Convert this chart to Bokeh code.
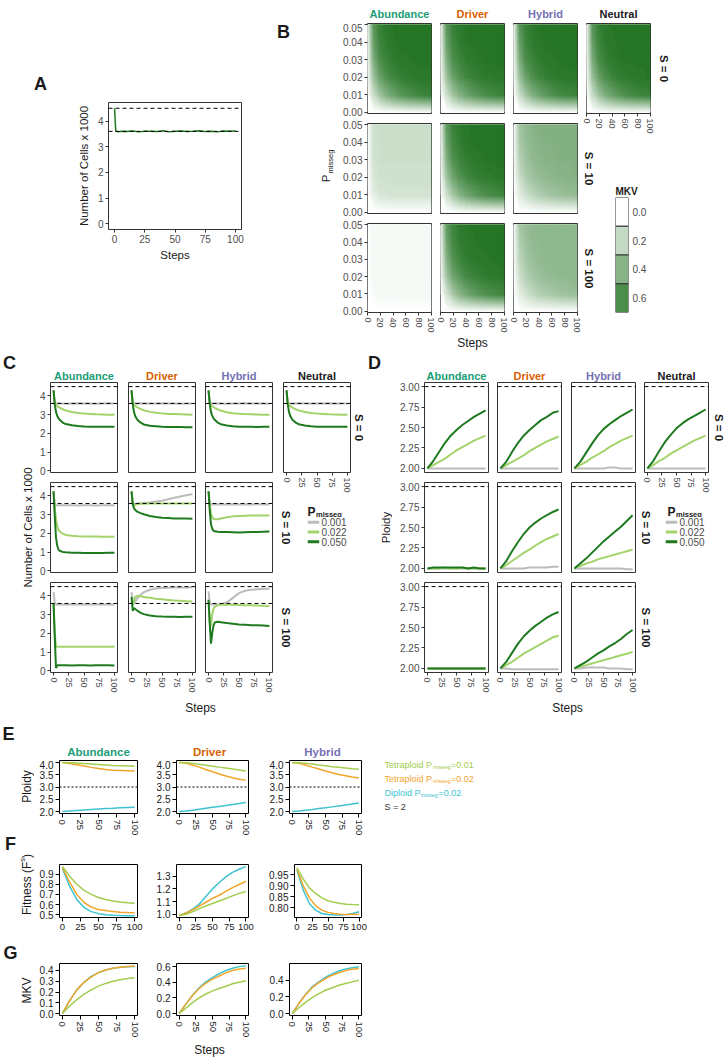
import math
import numpy as np
from bokeh.plotting import figure
from bokeh.plotting.contour import contour_data
from bokeh.models import (Range1d, FactorRange, LinearAxis, CategoricalAxis, FixedTicker, Span, Label,
                          LinearColorMapper, PrintfTickFormatter, ColumnDataSource)
from bokeh.layouts import row, column
from bokeh.embed import file_html
from bokeh.resources import INLINE
from bokeh.transform import transform

# ======================= DATA =======================
# ---- panel A ----
a_steps = [0, 1, 3, 5, 10, 15, 20, 25, 30, 35, 40, 45, 50, 55, 60, 65, 70, 75, 80, 85, 90, 95, 100]
a_cells = [4.50, 3.62, 3.58, 3.60, 3.59, 3.61, 3.58, 3.60, 3.60, 3.59, 3.62, 3.58, 3.60, 3.61, 3.59,
           3.60, 3.62, 3.59, 3.60, 3.58, 3.61, 3.60, 3.61]
a_hlines = [4.5, 3.6]

GROUPS = ["Abundance", "Driver", "Hybrid", "Neutral"]
S_LABELS = ["S = 0", "S = 10", "S = 100"]
pmisseg_labels = ["0.001", "0.022", "0.050"]

# ---- panel B: MKV at grid nodes (rows: Pmisseg 0.00..0.05, cols: steps 0..100) ----
b_step_nodes = [0, 10, 20, 30, 40, 50, 60, 70, 80, 90, 100]
b_pmisseg_nodes = [0.00, 0.01, 0.02, 0.03, 0.04, 0.05]
mkv_s0_abundance = [[0, 0, 0, 0, 0, 0, 0, 0, 0, 0, 0],
                    [0, 0.18, 0.32, 0.42, 0.49, 0.54, 0.58, 0.61, 0.63, 0.65, 0.66],
                    [0, 0.33, 0.50, 0.59, 0.64, 0.67, 0.69, 0.70, 0.71, 0.71, 0.71],
                    [0, 0.43, 0.60, 0.66, 0.69, 0.71, 0.71, 0.72, 0.72, 0.72, 0.72],
                    [0, 0.50, 0.65, 0.69, 0.71, 0.72, 0.72, 0.72, 0.72, 0.72, 0.72],
                    [0, 0.55, 0.67, 0.70, 0.72, 0.72, 0.72, 0.72, 0.72, 0.72, 0.72]]
mkv_s0_driver = [[0, 0, 0, 0, 0, 0, 0, 0, 0, 0, 0],
                 [0, 0.17, 0.31, 0.41, 0.48, 0.53, 0.57, 0.60, 0.62, 0.64, 0.65],
                 [0, 0.32, 0.49, 0.58, 0.63, 0.66, 0.68, 0.70, 0.70, 0.71, 0.71],
                 [0, 0.42, 0.59, 0.65, 0.69, 0.70, 0.71, 0.72, 0.72, 0.72, 0.72],
                 [0, 0.49, 0.64, 0.69, 0.71, 0.72, 0.72, 0.72, 0.72, 0.72, 0.72],
                 [0, 0.54, 0.67, 0.70, 0.72, 0.72, 0.72, 0.72, 0.72, 0.72, 0.72]]
mkv_s0_hybrid = [[0, 0, 0, 0, 0, 0, 0, 0, 0, 0, 0],
                 [0, 0.18, 0.32, 0.42, 0.49, 0.54, 0.58, 0.61, 0.63, 0.64, 0.65],
                 [0, 0.33, 0.50, 0.59, 0.64, 0.67, 0.69, 0.70, 0.71, 0.71, 0.71],
                 [0, 0.43, 0.60, 0.66, 0.69, 0.71, 0.71, 0.72, 0.72, 0.72, 0.72],
                 [0, 0.50, 0.65, 0.69, 0.71, 0.72, 0.72, 0.72, 0.72, 0.72, 0.72],
                 [0, 0.55, 0.67, 0.70, 0.72, 0.72, 0.72, 0.72, 0.72, 0.72, 0.72]]
mkv_s0_neutral = [[0, 0, 0, 0, 0, 0, 0, 0, 0, 0, 0],
                  [0, 0.19, 0.33, 0.43, 0.50, 0.55, 0.59, 0.62, 0.64, 0.65, 0.66],
                  [0, 0.34, 0.51, 0.60, 0.65, 0.68, 0.69, 0.70, 0.71, 0.71, 0.72],
                  [0, 0.44, 0.61, 0.67, 0.70, 0.71, 0.72, 0.72, 0.72, 0.72, 0.72],
                  [0, 0.51, 0.65, 0.70, 0.71, 0.72, 0.72, 0.72, 0.72, 0.72, 0.72],
                  [0, 0.56, 0.68, 0.71, 0.72, 0.72, 0.72, 0.72, 0.72, 0.72, 0.72]]
mkv_s10_abundance = [[0, 0, 0, 0, 0, 0, 0, 0, 0, 0, 0],
                     [0, 0.09, 0.13, 0.14, 0.15, 0.15, 0.15, 0.15, 0.15, 0.15, 0.15],
                     [0, 0.13, 0.16, 0.16, 0.16, 0.16, 0.16, 0.16, 0.16, 0.16, 0.16],
                     [0, 0.15, 0.17, 0.17, 0.17, 0.17, 0.17, 0.17, 0.17, 0.17, 0.17],
                     [0, 0.16, 0.17, 0.17, 0.17, 0.17, 0.17, 0.17, 0.17, 0.17, 0.17],
                     [0, 0.16, 0.17, 0.17, 0.17, 0.17, 0.17, 0.17, 0.17, 0.17, 0.17]]
mkv_s10_driver = [[0, 0, 0, 0, 0, 0, 0, 0, 0, 0, 0],
                  [0, 0.16, 0.30, 0.40, 0.47, 0.52, 0.56, 0.59, 0.61, 0.63, 0.64],
                  [0, 0.31, 0.48, 0.57, 0.63, 0.66, 0.68, 0.69, 0.70, 0.71, 0.71],
                  [0, 0.41, 0.58, 0.65, 0.68, 0.70, 0.71, 0.72, 0.72, 0.72, 0.72],
                  [0, 0.48, 0.63, 0.68, 0.71, 0.72, 0.72, 0.72, 0.72, 0.72, 0.72],
                  [0, 0.53, 0.66, 0.70, 0.71, 0.72, 0.72, 0.72, 0.72, 0.72, 0.72]]
mkv_s10_hybrid = [[0, 0, 0, 0, 0, 0, 0, 0, 0, 0, 0],
                  [0, 0.10, 0.17, 0.22, 0.26, 0.29, 0.31, 0.33, 0.34, 0.35, 0.36],
                  [0, 0.18, 0.27, 0.32, 0.35, 0.37, 0.38, 0.39, 0.40, 0.40, 0.41],
                  [0, 0.24, 0.32, 0.36, 0.38, 0.40, 0.40, 0.41, 0.41, 0.41, 0.42],
                  [0, 0.28, 0.35, 0.38, 0.40, 0.41, 0.41, 0.42, 0.42, 0.42, 0.42],
                  [0, 0.31, 0.37, 0.40, 0.41, 0.42, 0.42, 0.42, 0.42, 0.42, 0.42]]
mkv_s100_abundance = [[0, 0, 0, 0, 0, 0, 0, 0, 0, 0, 0],
                      [0, 0.02, 0.03, 0.03, 0.03, 0.03, 0.03, 0.03, 0.03, 0.03, 0.03],
                      [0, 0.03, 0.03, 0.03, 0.03, 0.03, 0.03, 0.03, 0.03, 0.03, 0.03],
                      [0, 0.03, 0.03, 0.03, 0.03, 0.03, 0.03, 0.03, 0.03, 0.03, 0.03],
                      [0, 0.03, 0.03, 0.03, 0.03, 0.03, 0.03, 0.03, 0.03, 0.03, 0.03],
                      [0, 0.03, 0.03, 0.03, 0.03, 0.03, 0.03, 0.03, 0.03, 0.03, 0.03]]
mkv_s100_driver = [[0, 0, 0, 0, 0, 0, 0, 0, 0, 0, 0],
                   [0, 0.15, 0.29, 0.39, 0.46, 0.51, 0.55, 0.58, 0.60, 0.62, 0.63],
                   [0, 0.30, 0.47, 0.56, 0.62, 0.65, 0.67, 0.69, 0.70, 0.70, 0.71],
                   [0, 0.40, 0.57, 0.64, 0.68, 0.70, 0.71, 0.71, 0.72, 0.72, 0.72],
                   [0, 0.47, 0.62, 0.68, 0.70, 0.71, 0.72, 0.72, 0.72, 0.72, 0.72],
                   [0, 0.52, 0.65, 0.70, 0.71, 0.72, 0.72, 0.72, 0.72, 0.72, 0.72]]
mkv_s100_hybrid = [[0, 0, 0, 0, 0, 0, 0, 0, 0, 0, 0],
                   [0, 0.09, 0.16, 0.21, 0.25, 0.27, 0.29, 0.31, 0.32, 0.33, 0.34],
                   [0, 0.17, 0.25, 0.30, 0.33, 0.35, 0.36, 0.37, 0.37, 0.38, 0.38],
                   [0, 0.22, 0.30, 0.34, 0.36, 0.37, 0.38, 0.38, 0.38, 0.38, 0.38],
                   [0, 0.26, 0.33, 0.36, 0.37, 0.38, 0.38, 0.38, 0.38, 0.38, 0.38],
                   [0, 0.29, 0.35, 0.37, 0.38, 0.38, 0.38, 0.38, 0.38, 0.38, 0.38]]
mkv_levels = [0.0, 0.2, 0.4, 0.6]

# ---- panel C: number of cells x 1000 ----
c_steps = [0, 2, 4, 6, 8, 10, 15, 20, 30, 40, 50, 60, 70, 80, 90, 100]
c_hlines = [4.5, 3.6]
c_s0_ab_p001 = [4.30, 3.62, 3.60, 3.60, 3.61, 3.60, 3.60, 3.59, 3.60, 3.61, 3.60, 3.60, 3.59, 3.60, 3.61, 3.60]
c_s0_ab_p022 = [4.30, 3.62, 3.52, 3.46, 3.41, 3.38, 3.29, 3.22, 3.14, 3.09, 3.06, 3.04, 3.02, 3.01, 3.00, 3.00]
c_s0_ab_p050 = [4.30, 3.55, 3.15, 2.94, 2.82, 2.73, 2.58, 2.50, 2.43, 2.39, 2.37, 2.36, 2.35, 2.35, 2.36, 2.36]
c_s0_dr_p001 = [4.30, 3.61, 3.60, 3.61, 3.60, 3.60, 3.61, 3.60, 3.60, 3.60, 3.61, 3.60, 3.60, 3.59, 3.60, 3.60]
c_s0_dr_p022 = [4.30, 3.62, 3.53, 3.47, 3.42, 3.39, 3.30, 3.24, 3.15, 3.10, 3.07, 3.04, 3.03, 3.02, 3.01, 3.00]
c_s0_dr_p050 = [4.30, 3.55, 3.14, 2.93, 2.81, 2.72, 2.57, 2.48, 2.41, 2.38, 2.35, 2.34, 2.34, 2.34, 2.33, 2.33]
c_s0_hy_p001 = [4.30, 3.60, 3.61, 3.60, 3.60, 3.61, 3.60, 3.60, 3.59, 3.60, 3.60, 3.61, 3.60, 3.60, 3.60, 3.59]
c_s0_hy_p022 = [4.30, 3.61, 3.52, 3.46, 3.41, 3.37, 3.28, 3.22, 3.13, 3.08, 3.05, 3.03, 3.02, 3.01, 3.00, 3.00]
c_s0_hy_p050 = [4.30, 3.56, 3.15, 2.95, 2.82, 2.73, 2.58, 2.49, 2.42, 2.38, 2.36, 2.35, 2.35, 2.34, 2.35, 2.35]
c_s0_ne_p001 = [4.30, 3.61, 3.60, 3.60, 3.60, 3.59, 3.60, 3.61, 3.60, 3.60, 3.60, 3.60, 3.61, 3.60, 3.60, 3.60]
c_s0_ne_p022 = [4.30, 3.62, 3.53, 3.46, 3.41, 3.38, 3.29, 3.23, 3.14, 3.09, 3.06, 3.04, 3.02, 3.01, 3.00, 3.00]
c_s0_ne_p050 = [4.30, 3.55, 3.15, 2.94, 2.82, 2.72, 2.58, 2.49, 2.42, 2.38, 2.36, 2.36, 2.35, 2.35, 2.35, 2.36]
c_s10_ab_p001 = [4.25, 3.55, 3.50, 3.50, 3.50, 3.50, 3.50, 3.50, 3.51, 3.49, 3.50, 3.50, 3.49, 3.50, 3.50, 3.50]
c_s10_ab_p022 = [4.25, 3.40, 2.75, 2.40, 2.20, 2.10, 1.98, 1.92, 1.88, 1.85, 1.84, 1.83, 1.83, 1.82, 1.82, 1.82]
c_s10_ab_p050 = [4.25, 2.90, 1.80, 1.35, 1.15, 1.07, 1.01, 0.99, 0.97, 0.96, 0.95, 0.95, 0.95, 0.95, 0.96, 0.97]
c_s10_dr_p001 = [4.25, 3.60, 3.58, 3.58, 3.59, 3.60, 3.61, 3.62, 3.65, 3.70, 3.75, 3.82, 3.90, 3.97, 4.04, 4.10]
c_s10_dr_p022 = [4.25, 3.60, 3.50, 3.52, 3.55, 3.57, 3.58, 3.59, 3.60, 3.60, 3.60, 3.60, 3.60, 3.60, 3.60, 3.60]
c_s10_dr_p050 = [4.25, 3.55, 3.35, 3.25, 3.20, 3.15, 3.08, 3.02, 2.93, 2.88, 2.84, 2.82, 2.80, 2.80, 2.79, 2.78]
c_s10_hy_p001 = [4.25, 3.60, 3.56, 3.55, 3.55, 3.55, 3.55, 3.56, 3.55, 3.56, 3.55, 3.55, 3.55, 3.56, 3.55, 3.55]
c_s10_hy_p022 = [4.25, 3.50, 3.05, 2.85, 2.78, 2.75, 2.76, 2.80, 2.86, 2.91, 2.93, 2.94, 2.95, 2.95, 2.95, 2.95]
c_s10_hy_p050 = [4.25, 3.20, 2.50, 2.25, 2.15, 2.11, 2.09, 2.08, 2.07, 2.06, 2.05, 2.06, 2.07, 2.08, 2.09, 2.10]
c_s100_ab_p001 = [4.20, 3.60, 3.55, 3.55, 3.55, 3.55, 3.55, 3.55, 3.55, 3.55, 3.55, 3.55, 3.55, 3.55, 3.55, 3.55]
c_s100_ab_p022 = [3.60, 2.00, 1.30, 1.28, 1.28, 1.28, 1.28, 1.28, 1.28, 1.28, 1.28, 1.28, 1.28, 1.28, 1.28, 1.28]
c_s100_ab_p050 = [3.60, 1.80, 0.15, 0.28, 0.30, 0.30, 0.30, 0.30, 0.29, 0.30, 0.30, 0.29, 0.30, 0.30, 0.30, 0.29]
c_s100_dr_p001 = [4.20, 3.65, 3.62, 3.70, 3.80, 3.90, 4.08, 4.20, 4.33, 4.40, 4.42, 4.44, 4.45, 4.45, 4.45, 4.46]
c_s100_dr_p022 = [3.65, 3.50, 3.75, 3.95, 4.00, 4.00, 3.98, 3.95, 3.90, 3.85, 3.82, 3.79, 3.76, 3.74, 3.72, 3.70]
c_s100_dr_p050 = [3.95, 3.20, 3.35, 3.30, 3.25, 3.20, 3.10, 3.03, 2.96, 2.92, 2.90, 2.89, 2.89, 2.88, 2.89, 2.89]
c_s100_hy_p001 = [4.25, 3.60, 3.55, 3.55, 3.55, 3.55, 3.55, 3.56, 3.65, 3.90, 4.15, 4.28, 4.33, 4.36, 4.37, 4.38]
c_s100_hy_p022 = [3.80, 2.60, 2.40, 3.00, 3.30, 3.42, 3.50, 3.53, 3.55, 3.53, 3.52, 3.51, 3.50, 3.49, 3.48, 3.47]
c_s100_hy_p050 = [3.80, 2.50, 1.45, 2.00, 2.40, 2.58, 2.62, 2.60, 2.55, 2.52, 2.48, 2.46, 2.44, 2.43, 2.42, 2.40]

# ---- panel D: ploidy ----
d_steps = [0, 10, 20, 30, 40, 50, 60, 70, 80, 90, 100]
d_hline = [3.0]
d_s0_ab_p001 = [2.00, 2.00, 2.00, 2.00, 2.00, 2.00, 2.00, 2.00, 2.00, 2.00, 2.00]
d_s0_ab_p022 = [2.00, 2.04, 2.08, 2.12, 2.17, 2.22, 2.26, 2.30, 2.34, 2.37, 2.40]
d_s0_ab_p050 = [2.00, 2.09, 2.20, 2.31, 2.40, 2.47, 2.53, 2.58, 2.63, 2.67, 2.71]
d_s0_dr_p001 = [2.00, 2.00, 2.00, 2.00, 2.00, 2.00, 2.00, 2.00, 2.00, 2.00, 2.00]
d_s0_dr_p022 = [2.00, 2.04, 2.08, 2.12, 2.16, 2.21, 2.25, 2.29, 2.33, 2.36, 2.39]
d_s0_dr_p050 = [2.00, 2.08, 2.20, 2.31, 2.40, 2.47, 2.53, 2.59, 2.63, 2.68, 2.70]
d_s0_hy_p001 = [2.00, 2.00, 2.00, 2.00, 2.00, 2.00, 2.01, 2.01, 2.00, 2.00, 2.00]
d_s0_hy_p022 = [2.00, 2.04, 2.08, 2.13, 2.17, 2.21, 2.26, 2.30, 2.34, 2.37, 2.40]
d_s0_hy_p050 = [2.00, 2.08, 2.19, 2.30, 2.40, 2.48, 2.54, 2.59, 2.64, 2.68, 2.72]
d_s0_ne_p001 = [2.00, 2.00, 2.00, 2.00, 2.00, 2.00, 2.00, 2.00, 2.00, 2.00, 2.00]
d_s0_ne_p022 = [2.00, 2.04, 2.09, 2.13, 2.18, 2.22, 2.26, 2.30, 2.34, 2.37, 2.40]
d_s0_ne_p050 = [2.00, 2.09, 2.21, 2.32, 2.41, 2.49, 2.55, 2.60, 2.64, 2.68, 2.72]
d_s10_ab_p001 = [2.00, 2.00, 2.00, 2.00, 2.00, 2.00, 2.00, 2.00, 2.00, 2.00, 2.00]
d_s10_ab_p022 = [2.00, 2.00, 2.00, 2.01, 2.00, 2.00, 2.01, 2.00, 2.00, 2.00, 2.00]
d_s10_ab_p050 = [2.00, 2.01, 2.01, 2.01, 2.01, 2.01, 2.01, 2.00, 2.01, 2.00, 2.00]
d_s10_dr_p001 = [2.00, 2.00, 2.00, 2.00, 2.00, 2.01, 2.01, 2.01, 2.01, 2.02, 2.02]
d_s10_dr_p022 = [2.00, 2.04, 2.09, 2.14, 2.19, 2.23, 2.28, 2.32, 2.36, 2.39, 2.42]
d_s10_dr_p050 = [2.00, 2.09, 2.21, 2.32, 2.42, 2.50, 2.56, 2.61, 2.65, 2.69, 2.72]
d_s10_hy_p001 = [2.00, 2.00, 2.00, 2.00, 2.00, 2.00, 2.00, 2.00, 2.00, 1.99, 1.99]
d_s10_hy_p022 = [2.00, 2.03, 2.06, 2.08, 2.11, 2.13, 2.15, 2.17, 2.19, 2.21, 2.23]
d_s10_hy_p050 = [2.00, 2.06, 2.12, 2.19, 2.26, 2.33, 2.39, 2.45, 2.51, 2.58, 2.65]
d_s100_ab_p001 = [2.00, 2.00, 2.00, 2.00, 2.00, 2.00, 2.00, 2.00, 2.00, 2.00, 2.00]
d_s100_ab_p022 = [2.00, 2.00, 2.00, 2.00, 2.00, 2.00, 2.00, 2.00, 2.00, 2.00, 2.00]
d_s100_ab_p050 = [2.00, 2.00, 2.00, 2.00, 2.00, 2.00, 2.00, 2.00, 2.00, 2.00, 2.00]
d_s100_dr_p001 = [2.00, 2.00, 1.99, 1.99, 1.99, 1.99, 1.99, 1.99, 1.99, 1.99, 1.99]
d_s100_dr_p022 = [2.00, 2.04, 2.08, 2.13, 2.18, 2.22, 2.26, 2.30, 2.34, 2.38, 2.40]
d_s100_dr_p050 = [2.00, 2.08, 2.19, 2.30, 2.39, 2.46, 2.52, 2.57, 2.62, 2.66, 2.69]
d_s100_hy_p001 = [2.00, 2.00, 2.01, 2.01, 2.01, 2.01, 2.00, 2.00, 2.00, 1.99, 1.99]
d_s100_hy_p022 = [2.00, 2.02, 2.04, 2.06, 2.08, 2.10, 2.12, 2.14, 2.16, 2.18, 2.20]
d_s100_hy_p050 = [2.00, 2.04, 2.08, 2.13, 2.18, 2.22, 2.27, 2.31, 2.36, 2.42, 2.47]

# ---- panels E, F, G ----
efg_steps = [0, 10, 20, 30, 40, 50, 60, 70, 80, 90, 100]
efg_series_names = ["Tetraploid P", "Tetraploid P", "Diploid P"]
efg_pmisseg = ["=0.01", "=0.02", "=0.02"]
efg_s_label = "S = 2"
e_hline = [3.0]
e_ab_tet01 = [4.00, 3.99, 3.98, 3.96, 3.94, 3.92, 3.90, 3.88, 3.87, 3.86, 3.85]
e_ab_tet02 = [4.00, 3.96, 3.91, 3.86, 3.80, 3.75, 3.71, 3.68, 3.67, 3.66, 3.65]
e_ab_dip02 = [2.00, 2.02, 2.04, 2.06, 2.08, 2.10, 2.12, 2.13, 2.15, 2.16, 2.17]
e_dr_tet01 = [4.00, 3.99, 3.97, 3.93, 3.89, 3.85, 3.81, 3.77, 3.73, 3.69, 3.65]
e_dr_tet02 = [4.00, 3.97, 3.90, 3.81, 3.71, 3.62, 3.53, 3.45, 3.38, 3.32, 3.28]
e_dr_dip02 = [2.00, 2.02, 2.05, 2.09, 2.13, 2.17, 2.21, 2.25, 2.29, 2.33, 2.37]
e_hy_tet01 = [4.00, 3.99, 3.97, 3.94, 3.90, 3.87, 3.83, 3.80, 3.77, 3.74, 3.72]
e_hy_tet02 = [4.00, 3.97, 3.90, 3.81, 3.73, 3.65, 3.58, 3.51, 3.46, 3.41, 3.37]
e_hy_dip02 = [2.00, 2.02, 2.05, 2.08, 2.12, 2.15, 2.19, 2.23, 2.27, 2.31, 2.35]
f_ab_tet01 = [0.975, 0.88, 0.80, 0.74, 0.70, 0.67, 0.65, 0.635, 0.625, 0.617, 0.612]
f_ab_tet02 = [0.965, 0.82, 0.70, 0.62, 0.575, 0.55, 0.54, 0.53, 0.525, 0.522, 0.52]
f_ab_dip02 = [0.955, 0.78, 0.65, 0.57, 0.53, 0.51, 0.50, 0.495, 0.492, 0.49, 0.49]
f_dr_tet01 = [0.99, 1.00, 1.02, 1.045, 1.065, 1.085, 1.105, 1.125, 1.145, 1.165, 1.18]
f_dr_tet02 = [0.99, 1.01, 1.035, 1.065, 1.095, 1.125, 1.15, 1.18, 1.21, 1.235, 1.26]
f_dr_dip02 = [0.99, 1.01, 1.04, 1.08, 1.14, 1.20, 1.25, 1.295, 1.33, 1.355, 1.375]
f_hy_tet01 = [0.98, 0.93, 0.89, 0.865, 0.845, 0.832, 0.825, 0.82, 0.817, 0.815, 0.814]
f_hy_tet02 = [0.975, 0.90, 0.845, 0.81, 0.79, 0.78, 0.775, 0.772, 0.771, 0.771, 0.772]
f_hy_dip02 = [0.97, 0.88, 0.82, 0.79, 0.775, 0.77, 0.768, 0.768, 0.770, 0.775, 0.783]
g_ab_tet01 = [0.0, 0.07, 0.13, 0.18, 0.22, 0.255, 0.28, 0.30, 0.315, 0.325, 0.333]
g_ab_tet02 = [0.0, 0.12, 0.22, 0.29, 0.34, 0.38, 0.405, 0.42, 0.43, 0.437, 0.442]
g_ab_dip02 = [0.0, 0.12, 0.22, 0.29, 0.345, 0.38, 0.405, 0.42, 0.43, 0.435, 0.438]
g_dr_tet01 = [0.0, 0.07, 0.14, 0.20, 0.25, 0.29, 0.32, 0.35, 0.38, 0.40, 0.42]
g_dr_tet02 = [0.0, 0.12, 0.23, 0.32, 0.39, 0.44, 0.48, 0.52, 0.55, 0.57, 0.58]
g_dr_dip02 = [0.0, 0.12, 0.235, 0.33, 0.405, 0.46, 0.51, 0.55, 0.58, 0.60, 0.61]
g_hy_tet01 = [0.0, 0.07, 0.135, 0.19, 0.24, 0.28, 0.31, 0.34, 0.36, 0.38, 0.40]
g_hy_tet02 = [0.0, 0.12, 0.225, 0.31, 0.37, 0.42, 0.46, 0.49, 0.515, 0.53, 0.54]
g_hy_dip02 = [0.0, 0.12, 0.23, 0.32, 0.38, 0.435, 0.475, 0.51, 0.535, 0.55, 0.56]

# ======================= STYLE =======================
FONT = "Liberation Sans"
TICK_COL = "#4d4d4d"
FRAME_COL = "#333333"
TXT_COL = "#1a1a1a"
GROUP_COLORS = ["#1b9e77", "#d95f02", "#7570b3", "#1a1a1a"]
PM_COLORS = ["#bcbcbc", "#a3d36b", "#1f7a1f"]
EFG_COLORS = ["#a2cd4e", "#f2a52b", "#3ec3cf"]
MKV_HIGH = (30, 112, 30)
MKV_MAX = 0.75


def mkv_color(v):
    t = min(max(v / MKV_MAX, 0.0), 1.0)
    return "#%02x%02x%02x" % tuple(int(round(255 + (h - 255) * t)) for h in MKV_HIGH)


MKV_PALETTE = [mkv_color(v) for v in np.linspace(0, MKV_MAX, 256)]
MKV_MAPPER = LinearColorMapper(palette=MKV_PALETTE, low=0, high=MKV_MAX)
MKV_BANDS = list(np.linspace(-0.005, 0.755, 58))

# tables built from the named arrays
B_MATS = [[mkv_s0_abundance, mkv_s0_driver, mkv_s0_hybrid, mkv_s0_neutral],
          [mkv_s10_abundance, mkv_s10_driver, mkv_s10_hybrid],
          [mkv_s100_abundance, mkv_s100_driver, mkv_s100_hybrid]]
C_SERIES = [[[c_s0_ab_p001, c_s0_ab_p022, c_s0_ab_p050], [c_s0_dr_p001, c_s0_dr_p022, c_s0_dr_p050],
             [c_s0_hy_p001, c_s0_hy_p022, c_s0_hy_p050], [c_s0_ne_p001, c_s0_ne_p022, c_s0_ne_p050]],
            [[c_s10_ab_p001, c_s10_ab_p022, c_s10_ab_p050], [c_s10_dr_p001, c_s10_dr_p022, c_s10_dr_p050],
             [c_s10_hy_p001, c_s10_hy_p022, c_s10_hy_p050]],
            [[c_s100_ab_p001, c_s100_ab_p022, c_s100_ab_p050], [c_s100_dr_p001, c_s100_dr_p022, c_s100_dr_p050],
             [c_s100_hy_p001, c_s100_hy_p022, c_s100_hy_p050]]]
D_SERIES = [[[d_s0_ab_p001, d_s0_ab_p022, d_s0_ab_p050], [d_s0_dr_p001, d_s0_dr_p022, d_s0_dr_p050],
             [d_s0_hy_p001, d_s0_hy_p022, d_s0_hy_p050], [d_s0_ne_p001, d_s0_ne_p022, d_s0_ne_p050]],
            [[d_s10_ab_p001, d_s10_ab_p022, d_s10_ab_p050], [d_s10_dr_p001, d_s10_dr_p022, d_s10_dr_p050],
             [d_s10_hy_p001, d_s10_hy_p022, d_s10_hy_p050]],
            [[d_s100_ab_p001, d_s100_ab_p022, d_s100_ab_p050], [d_s100_dr_p001, d_s100_dr_p022, d_s100_dr_p050],
             [d_s100_hy_p001, d_s100_hy_p022, d_s100_hy_p050]]]
E_SERIES = [[e_ab_tet01, e_ab_tet02, e_ab_dip02], [e_dr_tet01, e_dr_tet02, e_dr_dip02], [e_hy_tet01, e_hy_tet02, e_hy_dip02]]
F_SERIES = [[f_ab_tet01, f_ab_tet02, f_ab_dip02], [f_dr_tet01, f_dr_tet02, f_dr_dip02], [f_hy_tet01, f_hy_tet02, f_hy_dip02]]
G_SERIES = [[g_ab_tet01, g_ab_tet02, g_ab_dip02], [g_dr_tet01, g_dr_tet02, g_dr_dip02], [g_hy_tet01, g_hy_tet02, g_hy_dip02]]

# ======================= HELPERS =======================
FB = {}
AW = {'T': .611, 'e': .556, 't': .278, 'r': .333, 'a': .556, 'p': .556, 'l': .222, 'o': .556, 'i': .222,
      'd': .556, ' ': .278, 'P': .667, 'D': .722, 'm': .833, 's': .5, 'g': .556, '=': .584, '0': .556,
      '.': .278, '1': .556, '2': .556, 'S': .667, 'F': .611, 'n': .556, '(': .333, ')': .333}


def tw(s, size):
    return sum(AW.get(ch, .556) for ch in s) * size


def canvas(cx0, cy0, cx1, cy1, frame=None, xr=None, yr=None, yfactors=None, outline=True):
    """figure occupying page box (cx0,cy0)-(cx1,cy1) with its frame at page box `frame`."""
    if frame is None:
        frame = (cx0, cy0, cx1, cy1)
        xr = (0, cx1 - cx0)
        yr = (cy1 - cy0, 0)
        outline = False
    fx0, fy0, fx1, fy1 = frame
    if yfactors is not None:
        y_range = FactorRange(factors=list(yfactors))
        ynum = (0, len(yfactors))
    else:
        y_range = Range1d(*yr)
        ynum = yr
    p = figure(width=cx1 - cx0, height=cy1 - cy0, x_range=Range1d(*xr), y_range=y_range,
               min_border_left=fx0 - cx0, min_border_right=cx1 - fx1,
               min_border_top=fy0 - cy0, min_border_bottom=cy1 - fy1,
               toolbar_location=None, tools="", output_backend="svg",
               x_axis_location=None, y_axis_location=None)
    try:
        p.frame_align = False
    except Exception:
        pass
    p.outline_line_color = FRAME_COL if outline else None
    p.outline_line_width = 1
    p.background_fill_color = "white"
    p.border_fill_color = "white"
    p.xgrid.visible = False
    p.ygrid.visible = False
    FB[p.id] = (fx0, fy0, fx1, fy1, xr[0], xr[1], ynum[0], ynum[1])
    return p


def txt(p, px, py, text, size=11, color=TXT_COL, bold=False, align="center", baseline="middle",
        angle=0.0, font=FONT):
    fx0, fy0, fx1, fy1, xs, xe, ys, ye = FB[p.id]
    dx = xs + (px - fx0) / (fx1 - fx0) * (xe - xs)
    dy = ye + (py - fy0) / (fy1 - fy0) * (ys - ye)
    p.add_layout(Label(x=dx, y=dy, text=text, text_font=font, text_font_size=f"{size}px",
                       text_color=color, text_font_style="bold" if bold else "normal",
                       text_align=align, text_baseline=baseline, angle=angle))


def add_axis(p, side, ticks=None, fmt=None, vertical=False, size=10, color=TICK_COL,
             tick_color=FRAME_COL, tick_len=3, standoff=2, cat=False, no_ticks=False):
    if cat:
        ax = CategoricalAxis()
    else:
        ax = LinearAxis(ticker=FixedTicker(ticks=list(ticks)))
        if fmt:
            ax.formatter = PrintfTickFormatter(format=fmt)
    ax.axis_line_color = None
    ax.major_tick_line_color = None if no_ticks else tick_color
    ax.major_tick_out = 0 if no_ticks else tick_len
    ax.major_tick_in = 0
    ax.minor_tick_line_color = None
    ax.major_label_text_font_size = f"{size}px"
    ax.major_label_text_color = color
    ax.major_label_text_font = FONT
    ax.major_label_standoff = standoff
    ax.axis_label_text_font = FONT
    ax.axis_label_text_font_style = "normal"
    ax.axis_label_text_color = TXT_COL
    ax.axis_label_text_font_size = "11.5px"
    if vertical:
        ax.major_label_orientation = "vertical"
    p.add_layout(ax, side)
    return ax


def build_grid(xf, xc, yf, yc, ne_bottom, xr, yr, draw, xt, yt, yfmt, xsize=9):
    cols = []
    for c in range(4):
        nrows = 1 if c == 3 else 3
        figs = []
        for r in range(nrows):
            cy0, cy1 = yc[r]
            if c == 3:
                cy1 = ne_bottom
            p = canvas(xc[c][0], cy0, xc[c][1], cy1, (xf[c][0], yf[r][0], xf[c][1], yf[r][1]), xr, yr)
            draw(p, r, c)
            if c == 0:
                add_axis(p, "left", yt, fmt=yfmt)
            if r == nrows - 1:
                add_axis(p, "below", xt, vertical=True, size=xsize)
            figs.append(p)
        cols.append(figs)
    return cols


def strip_top(cx0, cy0, cx1, cy1, xf, sy, groups, size=11):
    p = canvas(cx0, cy0, cx1, cy1)
    for c, g in enumerate(groups):
        txt(p, (xf[c][0] + xf[c][1]) / 2, sy, g, size=size, bold=True, color=GROUP_COLORS[c])
    return p


def strip_side(cx0, cy0, cx1, cy1, sx, rows_y, labels):
    p = canvas(cx0, cy0, cx1, cy1)
    for lab, yy in zip(labels, rows_y):
        txt(p, sx, yy, lab, size=11.5, bold=True, angle=-math.pi / 2)
    return p


def pm_title(cx0, cy0, cx1, cy1, x0, y0):
    p = canvas(cx0, cy0, cx1, cy1)
    txt(p, x0, y0, "P", size=12, bold=True, align="left")
    txt(p, x0 + tw("P", 12) + 0.5, y0 + 2.5, "misseg", size=7.5, bold=True, align="left")
    return p


def pm_legend(cx0, cy0, cx1, cy1, frame):
    p = canvas(cx0, cy0, cx1, cy1, frame, (0, 1), None, yfactors=list(reversed(pmisseg_labels)),
               outline=False)
    p.segment(x0=0, x1=1, y0=pmisseg_labels, y1=pmisseg_labels, line_color=PM_COLORS, line_width=3)
    add_axis(p, "right", cat=True, no_ticks=True, size=10, standoff=2)
    return p


# ======================= PANEL A =======================
a_top = canvas(0, 0, 260, 95)
txt(a_top, 40, 83, "A", size=18, bold=True)
pA = canvas(0, 95, 260, 350, (108, 102, 241, 229), (-5, 105), (-0.225, 4.725))
pA.line(a_steps, a_cells, color="#1f7a1f", line_width=1.5)
for h in a_hlines:
    pA.add_layout(Span(location=h, dimension="width", line_color="black", line_dash="4 3", line_width=1))
axA_x = add_axis(pA, "below", [0, 25, 50, 75, 100])
axA_x.axis_label = "Steps"
axA_x.axis_label_standoff = 3
axA_y = add_axis(pA, "left", [0, 1, 2, 3, 4])
axA_y.axis_label = "Number of Cells x 1000"
axA_y.axis_label_standoff = 5
a_block = column(a_top, pA)

# ======================= PANEL B =======================
B_XF = [(367, 431), (440, 504), (513, 577), (586, 650)]
B_XC = [(335, 435), (435, 508), (508, 581), (581, 655)]
B_YF = [(23, 113), (123, 213), (223, 313)]
B_YC = [(23, 118), (118, 218), (218, 335)]


def draw_b(p, r, c):
    cd = contour_data(np.array(b_step_nodes, dtype=float), np.array(b_pmisseg_nodes, dtype=float),
                      np.array(B_MATS[r][c], dtype=float), MKV_BANDS, want_fill=True, want_line=False)
    fd = cd.fill_data
    cols = [mkv_color((lo + hi) / 2) for lo, hi in zip(fd.lower_levels, fd.upper_levels)]
    p.multi_polygons(xs=fd.xs, ys=fd.ys, fill_color=cols, line_color=cols, line_width=0.8)


b_cols = build_grid(B_XF, B_XC, B_YF, B_YC, 143, (-0.5, 100.5), (-0.0007, 0.0507), draw_b,
                    [0, 20, 40, 60, 80, 100], [0, 0.01, 0.02, 0.03, 0.04, 0.05], "%.2f")
b_left = canvas(260, 0, 335, 350)
txt(b_left, 283, 31, "B", size=18, bold=True)
txt(b_left, 325, 178, "P", size=11.5, angle=math.pi / 2)
txt(b_left, 330, 161, "misseg", size=7.5, angle=math.pi / 2)
b_top = strip_top(335, 0, 725, 23, B_XF, 13, GROUPS)
b_s0 = strip_side(655, 23, 725, 143, 663, [68], S_LABELS[:1])
b_strip = strip_side(581, 143, 605, 335, 588, [168, 268], S_LABELS[1:])
b_mkv_title = canvas(605, 143, 725, 197)
txt(b_mkv_title, 615, 191, "MKV", size=10, bold=True, align="left")
b_leg = canvas(605, 197, 725, 335, (615, 197, 628, 312), (0, 1), (0.7, -0.1))
b_leg.outline_line_color = None
b_src = ColumnDataSource(dict(y=mkv_levels, v=mkv_levels))
b_leg.rect(x=0.5, y="y", width=1, height=0.2, source=b_src, fill_color=transform("v", MKV_MAPPER),
           line_color=FRAME_COL, line_width=1)
add_axis(b_leg, "right", mkv_levels, fmt="%.1f", no_ticks=True, size=10, standoff=4)
b_steps_fig = canvas(335, 335, 725, 350)
txt(b_steps_fig, 472, 342, "Steps", size=12)
b_colNe = column(row(b_cols[3][0], b_s0), row(b_strip, column(b_mkv_title, b_leg)))
b_grid = row(column(*b_cols[0]), column(*b_cols[1]), column(*b_cols[2]), b_colNe)
b_block = row(b_left, column(b_top, b_grid, b_steps_fig))
top = row(a_block, b_block)

# ======================= PANELS C & D =======================
G_YF = [(382, 472), (482, 572), (582, 672)]
G_YC = [(382, 477), (477, 577), (577, 700)]


def draw_c(p, r, c):
    for i, ser in enumerate(C_SERIES[r][c]):
        p.line(c_steps, ser, color=PM_COLORS[i], line_width=2)
    for h in c_hlines:
        p.add_layout(Span(location=h, dimension="width", line_color="black", line_dash="4 3", line_width=1))


def draw_d(p, r, c):
    for i, ser in enumerate(D_SERIES[r][c]):
        p.line(d_steps, ser, color=PM_COLORS[i], line_width=2)
    for h in d_hline:
        p.add_layout(Span(location=h, dimension="width", line_color="black", line_dash="4 3", line_width=1))


C_XF = [(50, 117), (128, 195), (205, 272), (283, 350)]
C_XC = [(34, 122), (122, 200), (200, 277), (277, 352)]
c_cols = build_grid(C_XF, C_XC, G_YF, G_YC, 500, (-5, 105), (-0.09, 4.72), draw_c,
                    [0, 25, 50, 75, 100], [0, 1, 2, 3, 4], None)
c_top = strip_top(0, 350, 365, 382, C_XF, 375, GROUPS)
txt(c_top, 9, 362, "C", size=18, bold=True)
c_ylab = canvas(0, 382, 34, 700)
txt(c_ylab, 27, 527, "Number of Cells x 1000", size=11.5, angle=math.pi / 2)
c_s0 = strip_side(352, 382, 365, 500, 358.5, [427], S_LABELS[:1])
c_strip = strip_side(277, 500, 296, 700, 285, [527, 627], S_LABELS[1:])
c_pmt = pm_title(296, 500, 365, 517, 307, 511)
c_leg = pm_legend(296, 517, 365, 550, (307, 517, 319, 546))
c_colNe = column(row(c_cols[3][0], c_s0), row(c_strip, column(c_pmt, c_leg)))
c_steps_fig = canvas(0, 700, 365, 716)
txt(c_steps_fig, 200, 707, "Steps", size=12)
c_block = column(c_top, row(c_ylab, column(*c_cols[0]), column(*c_cols[1]), column(*c_cols[2]), c_colNe),
                 c_steps_fig)

D_XF = [(424, 488), (497, 561), (571, 635), (644, 708)]
D_XC = [(392, 492), (492, 566), (566, 639), (639, 712)]
d_cols = build_grid(D_XF, D_XC, G_YF, G_YC, 500, (-5, 105), (1.95, 3.05), draw_d,
                    [0, 25, 50, 75, 100], [2.0, 2.25, 2.5, 2.75, 3.0], "%.2f")
d_top = strip_top(365, 350, 725, 382, D_XF, 375, GROUPS)
txt(d_top, 374, 362, "D", size=18, bold=True)
d_ylab = canvas(365, 382, 392, 700)
txt(d_ylab, 385, 527, "Ploidy", size=11.5, angle=math.pi / 2)
d_s0 = strip_side(712, 382, 725, 500, 718.5, [427], S_LABELS[:1])
d_strip = strip_side(639, 500, 656, 700, 645, [527, 627], S_LABELS[1:])
d_pmt = pm_title(656, 500, 725, 517, 667, 511)
d_leg = pm_legend(656, 517, 725, 550, (665, 517, 677, 546))
d_colNe = column(row(d_cols[3][0], d_s0), row(d_strip, column(d_pmt, d_leg)))
d_steps_fig = canvas(365, 700, 725, 716)
txt(d_steps_fig, 567, 707, "Steps", size=12)
d_block = column(d_top, row(d_ylab, column(*d_cols[0]), column(*d_cols[1]), column(*d_cols[2]), d_colNe),
                 d_steps_fig)
mid = row(c_block, d_block)

# ======================= PANELS E, F, G =======================
EFG_XF = [(59, 137), (170, 248), (283, 361)]
EFG_XC = [(34, 153), (153, 266), (266, 372)]


def efg_panel(c, cy0, cy1, fy0, fy1, yr, yt, yfmt, series, xvertical, hline=None):
    p = canvas(EFG_XC[c][0], cy0, EFG_XC[c][1], cy1, (EFG_XF[c][0], fy0, EFG_XF[c][1], fy1), (-4, 104), yr)
    p.outline_line_color = "black"
    for i in [2, 1, 0]:
        p.line(efg_steps, series[i], color=EFG_COLORS[i], line_width=1.5)
    if hline:
        for h in hline:
            p.add_layout(Span(location=h, dimension="width", line_color="black", line_dash="2 2", line_width=1))
    add_axis(p, "left", yt, fmt=yfmt, size=10, color=TXT_COL, tick_color="black", tick_len=4)
    add_axis(p, "below", [0, 25, 50, 75, 100], vertical=xvertical, size=9.5,
             color=TXT_COL, tick_color="black", tick_len=4)
    return p


E_YR = (1.92, 4.08)
F_YR = [(0.472, 0.995), (0.975, 1.392), (0.757, 0.995)]
F_YT = [[0.5, 0.6, 0.7, 0.8, 0.9], [1.0, 1.1, 1.2, 1.3], [0.80, 0.85, 0.90, 0.95]]
F_FMT = ["%.1f", "%.1f", "%.2f"]
G_YR = [(-0.018, 0.465), (-0.025, 0.64), (-0.023, 0.6)]
G_YT = [[0.0, 0.1, 0.2, 0.3, 0.4], [0.0, 0.2, 0.4, 0.6], [0.0, 0.2, 0.4]]

e_figs = [efg_panel(c, 760, 838, 760, 813, E_YR, [2.0, 2.5, 3.0, 3.5, 4.0], "%.1f", E_SERIES[c], True, e_hline)
          for c in range(3)]
f_figs = [efg_panel(c, 838, 940, 864, 917, F_YR[c], F_YT[c], F_FMT[c], F_SERIES[c], False) for c in range(3)]
g_figs = [efg_panel(c, 940, 1040, 963, 1016, G_YR[c], G_YT[c], "%.1f", G_SERIES[c], True) for c in range(3)]

e_top = strip_top(34, 716, 725, 760, EFG_XF, 751, GROUPS[:3], size=11.5)
efg_left = canvas(0, 716, 34, 1058)
txt(efg_left, 8, 733, "E", size=18, bold=True)
txt(efg_left, 10, 843, "F", size=18, bold=True)
txt(efg_left, 10, 952, "G", size=18, bold=True)
txt(efg_left, 26, 786, "Ploidy", size=12, angle=math.pi / 2)
txt(efg_left, 26, 990, "MKV", size=12, angle=math.pi / 2)
f_main, f_sup, f_end = "Fitness (F", "s", ")"
f_len = tw(f_main, 12) + tw(f_sup, 7.5) + tw(f_end, 12)
f_y0 = 884 + f_len / 2
txt(efg_left, 26, f_y0, f_main, size=12, angle=math.pi / 2, align="left")
txt(efg_left, 22, f_y0 - tw(f_main, 12), f_sup, size=7.5, angle=math.pi / 2, align="left")
txt(efg_left, 26, f_y0 - tw(f_main, 12) - tw(f_sup, 7.5), f_end, size=12, angle=math.pi / 2, align="left")

e_leg = canvas(372, 760, 725, 838)
E_LEG_Y = [764, 778, 792]
for i in range(3):
    x0 = 384
    w1 = tw(efg_series_names[i], 9)
    txt(e_leg, x0, E_LEG_Y[i], efg_series_names[i], size=9, color=EFG_COLORS[i], align="left")
    txt(e_leg, x0 + w1, E_LEG_Y[i] + 2.5, "misseg", size=5.5, color=EFG_COLORS[i], align="left")
    txt(e_leg, x0 + w1 + tw("misseg", 5.5) + 0.5, E_LEG_Y[i], efg_pmisseg[i], size=9,
        color=EFG_COLORS[i], align="left")
txt(e_leg, 384, 806, efg_s_label, size=9, color="#333333", align="left")

g_steps_fig = canvas(34, 1040, 725, 1058)
txt(g_steps_fig, 209, 1049, "Steps", size=12)

efg_main = column(e_top, row(*e_figs, e_leg), row(*f_figs), row(*g_figs), g_steps_fig)
bottom = row(efg_left, efg_main)

root = column(top, mid, bottom)
open("out.html", "w").write(file_html(root, INLINE, "Figure"))
